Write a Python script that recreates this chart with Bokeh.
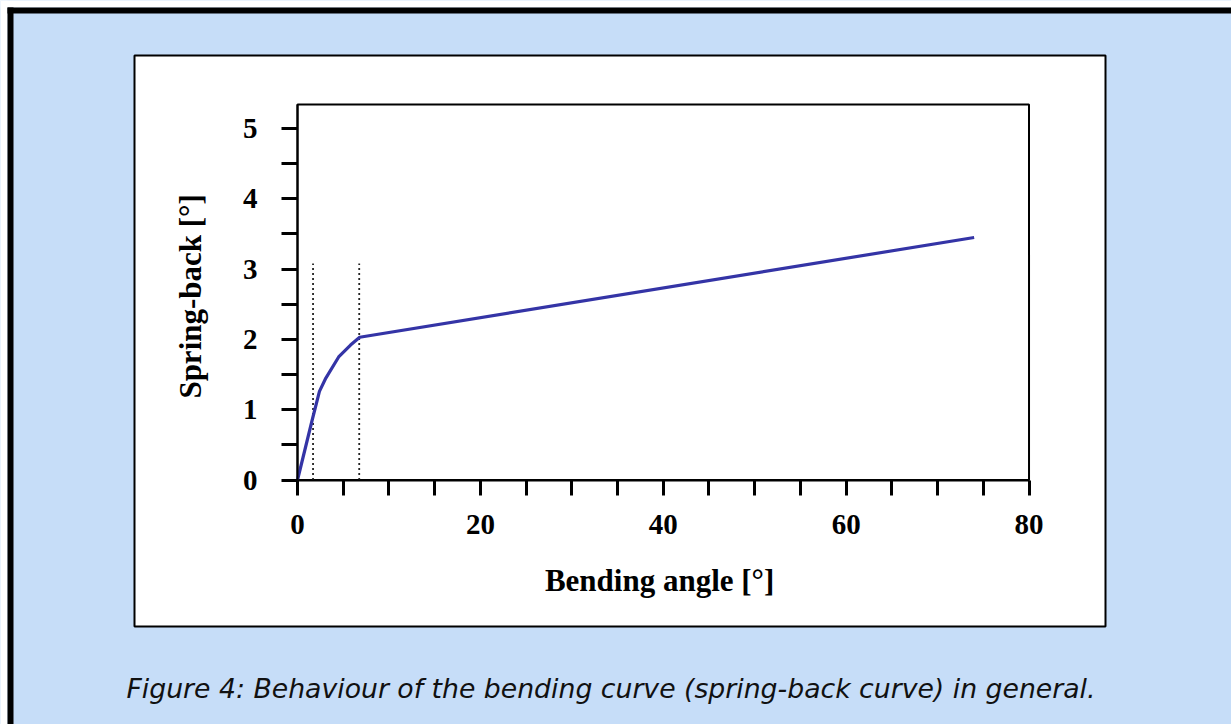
from bokeh.plotting import figure
from bokeh.models import (Range1d, FixedTicker, Label)
from bokeh.embed import file_html
from bokeh.resources import INLINE

# ---- data ----
bending_angle = [0, 1.6, 2.4, 3.1, 4.5, 5.8, 6.8, 74.0]
spring_back = [0, 0.85, 1.26, 1.45, 1.75, 1.92, 2.03, 3.45]

marker_angles = [1.7, 6.75]
marker_top = [3.08, 3.08]
marker_bottom = [0, 0]

x_ticks = [0, 5, 10, 15, 20, 25, 30, 35, 40, 45, 50, 55, 60, 65, 70, 75, 80]
x_labels = {0: "0", 20: "20", 40: "40", 60: "60", 80: "80"}
y_ticks = [0, 0.5, 1, 1.5, 2, 2.5, 3, 3.5, 4, 4.5, 5]
y_labels = {0: "0", 1: "1", 2: "2", 3: "3", 4: "4", 5: "5"}
x_limits = (0, 80)
y_limits = (0, 5.34)

x_title = "Bending angle  [°]"
y_title = "Spring-back  [°]"
caption = "Figure 4: Behaviour of the bending curve (spring-back curve) in general."

# ---- layout (canvas pixels) ----
W, H = 1231, 724
BG = "#c6ddf8"
SERIF = "Liberation Serif"
X0_PX, PX_PER_X = 297.0, 9.144     # where angle 0 sits, pixels per degree
Y0_PX, PX_PER_Y = 479.5, 70.3      # where spring-back 0 sits, pixels per degree

x_range = Range1d(-X0_PX / PX_PER_X, (W - X0_PX) / PX_PER_X)
y_range = Range1d(-(H - Y0_PX) / PX_PER_Y, Y0_PX / PX_PER_Y)


def dx(px):
    return x_range.start + px / PX_PER_X


def dy(py):
    return y_range.end - py / PX_PER_Y


p = figure(width=W, height=H, output_backend="svg", toolbar_location=None,
           x_range=x_range, y_range=y_range,
           min_border_left=0, min_border_right=0,
           min_border_top=0, min_border_bottom=0)

p.border_fill_color = BG
p.background_fill_color = BG
p.outline_line_color = None
p.grid.visible = False

# decorations: page edge, outer dark border and the white panel
p.quad(left=[dx(0), dx(0)], right=[dx(7), dx(W)], top=[dy(0), dy(0)],
       bottom=[dy(H), dy(7)], fill_color="white", line_color=None)
p.quad(left=[dx(7), dx(7)], right=[dx(13), dx(W)], top=[dy(7), dy(7)],
       bottom=[dy(H), dy(13)], fill_color="black", line_color=None)
p.quad(left=[dx(134)], right=[dx(1105)], top=[dy(55)], bottom=[dy(626)],
       fill_color="white", line_color="black", line_width=2)

# chart frame (top and right edges)
p.quad(left=[x_limits[0]], right=[x_limits[1]], bottom=[y_limits[0]],
       top=[y_limits[1]], fill_color="white", line_color="black", line_width=2)

# axes
for ax in (p.xaxis[0], p.yaxis[0]):
    ax.fixed_location = 0
    ax.axis_line_width = 2
    ax.axis_line_color = "black"
    ax.major_tick_line_width = 3
    ax.major_tick_line_color = "black"
    ax.major_tick_in = 0
    ax.minor_tick_line_color = None
    ax.major_label_text_font = SERIF
    ax.major_label_text_font_style = "bold"
    ax.major_label_text_font_size = "29px"
    ax.major_label_text_color = "black"
    ax.axis_label_text_font = SERIF
    ax.axis_label_text_font_style = "bold"
    ax.axis_label_text_font_size = "31px"
    ax.axis_label_text_color = "black"

p.xaxis.bounds = x_limits
p.xaxis.ticker = FixedTicker(ticks=x_ticks)
p.xaxis.major_label_overrides = {t: x_labels.get(t, "") for t in x_ticks}
p.xaxis.major_tick_out = 15
p.xaxis.major_label_standoff = 20
p.xaxis.axis_label = x_title
p.xaxis.axis_label_standoff = 25

p.yaxis.bounds = y_limits
p.yaxis.ticker = FixedTicker(ticks=y_ticks)
p.yaxis.major_label_overrides = {t: y_labels.get(t, "") for t in y_ticks}
p.yaxis.major_tick_out = 16
p.yaxis.major_label_standoff = 24
p.yaxis.axis_label = y_title
p.yaxis.axis_label_standoff = 32

# data
p.segment(x0=marker_angles, y0=marker_bottom, x1=marker_angles, y1=marker_top,
          line_color="#222222", line_width=1.8, line_dash="2 3")
p.line(bending_angle, spring_back, line_color="#3434a6", line_width=3.2)

# caption
p.add_layout(Label(x=126, y=688, x_units="canvas", y_units="canvas",
                   text=caption, text_font="DejaVu Sans",
                   text_font_style="italic", text_font_size="26.7px",
                   text_color="#111111", text_baseline="alphabetic"))

open("out.html", "w").write(file_html(p, INLINE))
